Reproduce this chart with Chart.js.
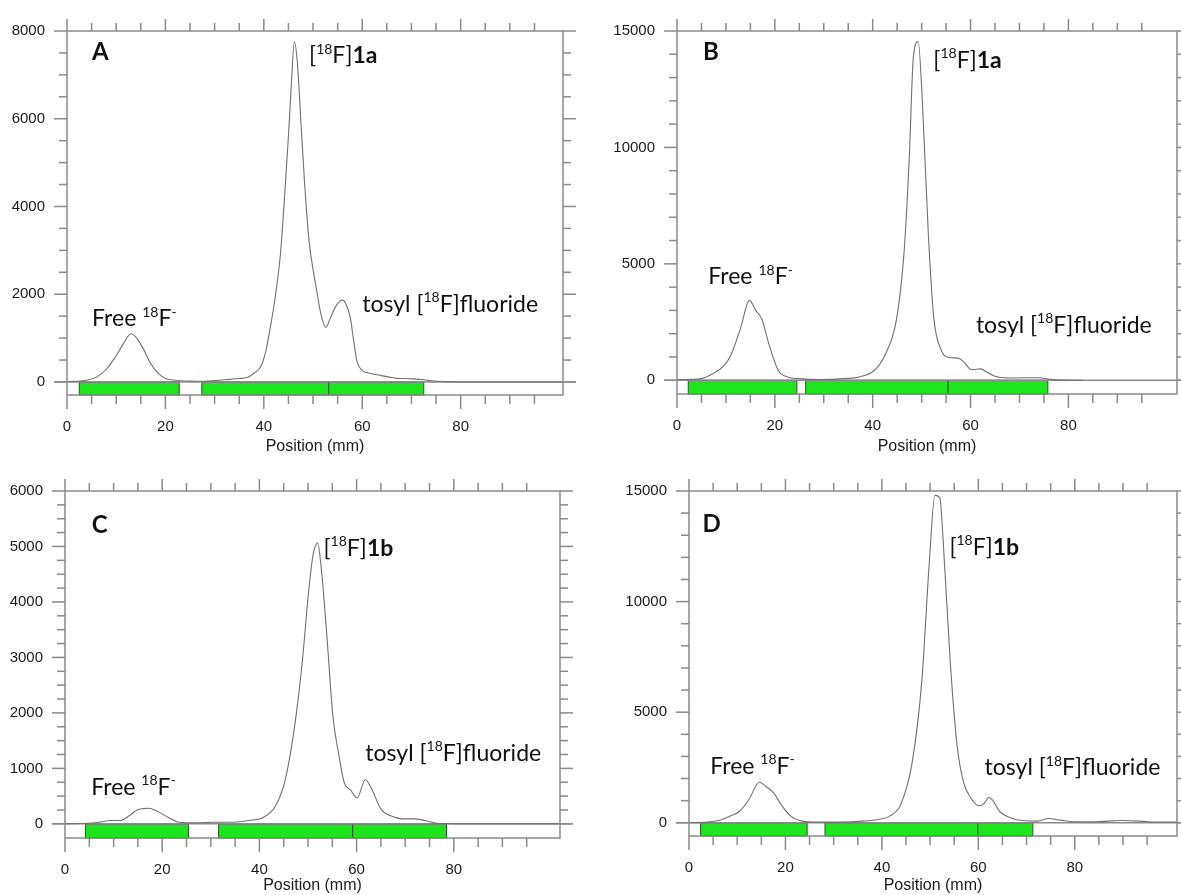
<!DOCTYPE html>
<html>
<head>
<meta charset="utf-8">
<title>Radio-TLC</title>
<script src="https://cdn.jsdelivr.net/npm/chart.js@4.4.1/dist/chart.umd.min.js"></script>
<style>
html,body{margin:0;padding:0;background:#fff}
body{width:1181px;height:895px;position:relative;overflow:hidden}
canvas{position:absolute}
</style>
</head>
<body>
<canvas id="cA" width="590" height="460" style="left:0;top:0"></canvas>
<canvas id="cB" width="591" height="460" style="left:590px;top:0"></canvas>
<canvas id="cC" width="590" height="435" style="left:0;top:460px"></canvas>
<canvas id="cD" width="591" height="435" style="left:590px;top:460px"></canvas>
<script>
// strip A: position (mm) / counts
const posA = [0, 2, 4, 6, 8, 10, 11.5, 13, 14, 15.5, 17, 18.5, 20, 22, 25, 28, 30, 33, 35, 36.6, 38, 39.3, 40.3, 41.3, 42.4, 43.4, 44.2, 45, 45.6, 46.2, 46.8, 47.5, 48.3, 49.2, 50.1, 50.8, 51.5, 52.6, 53.5, 54.5, 55.5, 56, 56.6, 57.6, 58.3, 58.9, 60, 61.5, 63.7, 65.5, 67, 68.5, 70.4, 72.5, 74.5, 77, 80, 90, 100.8];
const cntA = [10, 15, 40, 110, 290, 600, 880, 1100, 1020, 760, 420, 200, 80, 40, 20, 15, 30, 60, 80, 100, 200, 335, 650, 1230, 2000, 2950, 4200, 5600, 6800, 7760, 7300, 6000, 4500, 3200, 2500, 2050, 1600, 1247, 1450, 1700, 1850, 1866, 1800, 1455, 900, 485, 262, 200, 150, 110, 83, 80, 70, 50, 20, 8, 0, 0, 0];

// strip B
const posB = [0, 3, 5, 7.3, 9.6, 11.1, 13, 14.8, 16.1, 17.4, 18.8, 20.7, 22.6, 24.9, 29.5, 34.1, 37.2, 40.3, 42.6, 44.9, 46.4, 47.5, 48.3, 49.3, 50.2, 51.4, 52.5, 54.1, 55.6, 57.5, 58.7, 60.2, 62.1, 63.3, 65.6, 68.6, 74, 76.3, 81.7, 83];
const cntB = [30, 40, 70, 280, 630, 1120, 2240, 3430, 3000, 2590, 1540, 420, 140, 70, 30, 70, 140, 420, 1120, 2660, 5460, 9660, 13850, 14550, 11750, 6160, 2660, 1260, 980, 950, 770, 450, 490, 350, 140, 100, 110, 40, 0, 0];

// strip C
const posC = [0, 4.6, 7, 9.3, 11.3, 13.3, 14.8, 16, 17.2, 18.8, 21.2, 23.5, 27.5, 30.6, 34.6, 37.8, 40.9, 43.3, 45.3, 47.2, 48.8, 50, 51, 52, 52.8, 53.9, 55.1, 56.3, 57.5, 58.7, 60.1, 61.8, 63, 65, 67, 69.4, 71.7, 74.1, 76.5, 81.2, 90, 101.9];
const cntC = [0, 10, 30, 60, 60, 150, 250, 275, 280, 235, 120, 30, 20, 30, 30, 60, 120, 320, 790, 1730, 2900, 4070, 4830, 5060, 4540, 3370, 1960, 1260, 730, 615, 470, 800, 645, 265, 145, 90, 90, 60, 10, 0, 0, 0];

// strip D
const posD = [0, 3.8, 6.1, 8.5, 10.5, 12.4, 14.6, 16, 17.6, 19.1, 21.1, 23.5, 26.6, 31.3, 36.1, 39.2, 41.6, 43.9, 46.3, 48.3, 49.8, 51, 52, 53, 54.2, 55.6, 56.9, 58.5, 60.1, 61.3, 62.1, 62.9, 64.4, 66.8, 69.1, 72.3, 74.6, 77, 80.2, 84.1, 89.6, 93.5, 96.7, 101.2];
const cntD = [0, 30, 100, 300, 520, 1040, 1830, 1630, 1340, 820, 300, 75, 30, 30, 75, 150, 300, 820, 2750, 6460, 11660, 14800, 14700, 11660, 7200, 3490, 1860, 1110, 770, 890, 1140, 1040, 520, 220, 100, 75, 190, 120, 45, 45, 100, 75, 30, 30];

// integration regions (mm)
const zonesA = [[2.5, 22.8], [27.4, 53.2], [53.2, 72.5]];
const zonesB = [[2.3, 24.5], [26.3, 55.4], [55.4, 75.8]];
const zonesC = [[4.2, 25.4], [31.6, 59.2], [59.2, 78.5]];
const zonesD = [[2.4, 24.5], [28.2, 59.9], [59.9, 71.3]];

// tick labels
const xTickLabels = [0, 20, 40, 60, 80];
const yTicksA = [0, 2000, 4000, 6000, 8000];
const yTicksB = [0, 5000, 10000, 15000];
const yTicksC = [0, 1000, 2000, 3000, 4000, 5000, 6000];
const yTicksD = [0, 5000, 10000, 15000];

// peak labels: [text, 0 normal | 1 superscript | 2 bold]
const lblFree = [['Free ', 0], ['18', 1], ['F', 0], ['-', 1]];
const lblTosyl = [['tosyl [', 0], ['18', 1], ['F]fluoride', 0]];
const lbl1a = [['[', 0], ['18', 1], ['F]', 0], ['1a', 2]];
const lbl1b = [['[', 0], ['18', 1], ['F]', 0], ['1b', 2]];

const AXIS = '#8a8a8a';
const TXT = '#1a1a1a';
const TICK_FONT = {family: '"Liberation Sans", Arial, sans-serif', size: 15};
const TITLE_FONT = {family: '"Liberation Sans", Arial, sans-serif', size: 16};
const X_MINOR = 5, X_MINOR_LAST = 95;

function seg(ctx, x1, y1, x2, y2) {
  ctx.beginPath(); ctx.moveTo(x1, y1); ctx.lineTo(x2, y2); ctx.stroke();
}

const tlcFrame = {
  id: 'tlcFrame',
  beforeDatasetsDraw(chart, args, o) {
    const {ctx, chartArea: a, scales: {x, y}} = chart;
    const y0 = y.getPixelForValue(0);
    ctx.save();
    o.zones.forEach(([s, e]) => {
      const x1 = x.getPixelForValue(s), x2 = x.getPixelForValue(e);
      ctx.fillStyle = '#1ee41e';
      ctx.fillRect(x1, y0, x2 - x1, a.bottom - y0);
      ctx.strokeStyle = '#2c552c';
      ctx.lineWidth = 1;
      ctx.strokeRect(x1, y0, x2 - x1, a.bottom - y0);
    });
    ctx.strokeStyle = AXIS;
    ctx.lineWidth = 1.5;
    seg(ctx, a.left - 13, y0, a.right + 13, y0);
    ctx.restore();
  },
  afterDatasetsDraw(chart, args, o) {
    const {ctx, chartArea: a, scales: {x, y}} = chart;
    ctx.save();
    ctx.strokeStyle = AXIS;
    ctx.lineWidth = 1.5;
    ctx.strokeRect(a.left, a.top, a.right - a.left, a.bottom - a.top);
    for (let v = 0; v <= X_MINOR_LAST; v += X_MINOR) {
      const px = x.getPixelForValue(v);
      const major = v % 20 === 0;
      seg(ctx, px, a.bottom, px, a.bottom + (major ? 14 : 9));
      seg(ctx, px, a.top, px, a.top - (major ? 12 : 8));
    }
    for (let v = 0; v <= o.yMax; v += o.yMinor) {
      const py = y.getPixelForValue(v);
      const major = o.yTicks.includes(v);
      seg(ctx, a.left - (major ? 13 : 8), py, a.left, py);
      seg(ctx, a.right, py, a.right + (major ? 13 : 8), py);
    }
    ctx.restore();
  }
};

const tlcNotes = {
  id: 'tlcNotes',
  afterDraw(chart, args, o) {
    const {ctx, scales: {x, y}} = chart;
    ctx.save();
    ctx.fillStyle = '#111';
    ctx.textBaseline = 'alphabetic';
    o.items.forEach(n => {
      let cx = x.getPixelForValue(n.x);
      const mid = y.getPixelForValue(n.y);
      n.runs.forEach(([t, k]) => {
        const sup = k === 1;
        const fs = sup ? Math.round(n.size * 0.62) : n.size;
        ctx.font = (k === 2 ? 'bold ' : '') + fs + 'px Lato, sans-serif';
        const base = mid + n.size * 0.36 - (sup ? n.size * 0.42 : 0);
        ctx.fillText(t, cx, base);
        cx += ctx.measureText(t).width;
      });
    });
    ctx.restore();
  }
};

const panels = [
  {id: 'cA', pos: posA, cnt: cntA, zones: zonesA, yTicks: yTicksA, yMinor: 500, yMin: -297, yMax: 8000, xMax: 100.8,
   area: [67, 24, 563, 395], titlePad: 4,
   notes: [{runs: [['A', 2]], x: 5.1, y: 7530, size: 24}, {runs: lbl1a, x: 49.2, y: 7450, size: 23},
           {runs: lblFree, x: 5.1, y: 1460, size: 23}, {runs: lblTosyl, x: 60, y: 1790, size: 23}]},
  {id: 'cB', pos: posB, cnt: cntB, zones: zonesB, yTicks: yTicksB, yMinor: 1000, yMin: -590, yMax: 15000, xMax: 102.2,
   area: [87, 24, 587, 394], titlePad: 4,
   notes: [{runs: [['B', 2]], x: 5.3, y: 14130, size: 24}, {runs: lbl1a, x: 52.4, y: 13780, size: 23},
           {runs: lblFree, x: 6.4, y: 4480, size: 23}, {runs: lblTosyl, x: 61.1, y: 2380, size: 23}]},
  {id: 'cC', pos: posC, cnt: cntC, zones: zonesC, yTicks: yTicksC, yMinor: 250, yMin: -255, yMax: 6000, xMax: 101.85,
   area: [65, 23, 560, 378], titlePad: 0,
   notes: [{runs: [['C', 2]], x: 5.5, y: 5406, size: 24}, {runs: lbl1b, x: 53.2, y: 4976, size: 23},
           {runs: lblFree, x: 5.4, y: 673, size: 23}, {runs: lblTosyl, x: 61.8, y: 1290, size: 23}]},
  {id: 'cD', pos: posD, cnt: cntD, zones: zonesD, yTicks: yTicksD, yMinor: 1000, yMin: -598, yMax: 15000, xMax: 101.2,
   area: [99, 24, 587, 376], titlePad: 0,
   notes: [{runs: [['D', 2]], x: 2.8, y: 13550, size: 24}, {runs: lbl1b, x: 54, y: 12475, size: 23},
           {runs: lblFree, x: 4.4, y: 2600, size: 23}, {runs: lblTosyl, x: 61.3, y: 2525, size: 23}]}
];

function buildPanel(p) {
  const cv = document.getElementById(p.id);
  const W = cv.width, H = cv.height;
  const [l, t, r, b] = p.area;
  new Chart(cv, {
    type: 'line',
    data: {datasets: [{
      data: p.pos.map((v, i) => ({x: v, y: p.cnt[i]})),
      borderColor: '#707070', borderWidth: 1.1, pointRadius: 0,
      cubicInterpolationMode: 'monotone', fill: false
    }]},
    options: {
      responsive: false, animation: false, events: [],
      layout: {padding: {left: 0, top: t, right: W - r, bottom: 0}},
      plugins: {
        legend: {display: false}, tooltip: {enabled: false},
        tlcFrame: {zones: p.zones, yTicks: p.yTicks, yMinor: p.yMinor, yMax: p.yMax},
        tlcNotes: {items: p.notes}
      },
      scales: {
        x: {
          type: 'linear', min: 0, max: p.xMax,
          grid: {display: false, drawTicks: false}, border: {display: false},
          afterBuildTicks: s => { s.ticks = xTickLabels.map(v => ({value: v})); },
          afterFit: s => { s.height = H - b; },
          ticks: {padding: 23, font: TICK_FONT, color: TXT, maxRotation: 0, autoSkip: false, callback: v => String(v)},
          title: {display: true, text: 'Position (mm)', font: TITLE_FONT, color: TXT, padding: {top: 0, bottom: p.titlePad}}
        },
        y: {
          type: 'linear', min: p.yMin, max: p.yMax,
          grid: {display: false, drawTicks: false}, border: {display: false},
          afterBuildTicks: s => { s.ticks = p.yTicks.map(v => ({value: v})); },
          afterFit: s => { s.width = l; },
          ticks: {padding: 22, font: TICK_FONT, color: TXT, autoSkip: false, callback: v => String(v)}
        }
      }
    },
    plugins: [tlcFrame, tlcNotes]
  });
}

Promise.all([
  document.fonts.load('23px Lato'),
  document.fonts.load('bold 24px Lato'),
  document.fonts.load('15px "Liberation Sans"')
]).catch(() => {}).then(() => panels.forEach(buildPanel));
</script>
</body>
</html>
